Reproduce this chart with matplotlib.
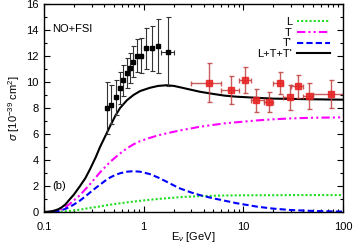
import numpy as np
import matplotlib.pyplot as plt
from matplotlib.ticker import MultipleLocator, FixedLocator, NullFormatter

plt.rcParams['font.family'] = ['Liberation Sans', 'DejaVu Sans']
plt.rcParams['mathtext.fontset'] = 'custom'
plt.rcParams['mathtext.rm'] = 'Liberation Sans'
plt.rcParams['mathtext.it'] = 'Liberation Sans:italic'

# model curves
E = [0.1, 0.11, 0.12, 0.13, 0.14, 0.15, 0.165, 0.18, 0.2, 0.23, 0.26, 0.29,
     0.33, 0.365, 0.41, 0.46, 0.52, 0.58, 0.68, 0.79, 0.92, 1.15, 1.4, 1.7,
     2.0, 2.3, 3.0, 3.66, 5, 6.5, 8.5, 14, 20, 30, 50, 100]
sig_L = [0, 0, 0, 0.01, 0.02, 0.03, 0.05, 0.08, 0.12, 0.18, 0.25, 0.32,
         0.38, 0.43, 0.5, 0.56, 0.62, 0.67, 0.74, 0.8, 0.86, 0.94, 1.0, 1.06,
         1.1, 1.14, 1.19, 1.22, 1.25, 1.27, 1.28, 1.29, 1.29, 1.3, 1.3, 1.3]
sig_T = [0, 0, 0.02, 0.06, 0.13, 0.22, 0.4, 0.6, 0.9, 1.3, 1.75, 2.15,
         2.65, 3.05, 3.45, 3.85, 4.2, 4.5, 4.9, 5.2, 5.45, 5.7, 5.9, 6.05,
         6.17, 6.27, 6.43, 6.56, 6.7, 6.82, 6.9, 7.05, 7.13, 7.2, 7.25, 7.28]
sig_Tp = [0, 0, 0.01, 0.04, 0.08, 0.14, 0.25, 0.38, 0.58, 0.88, 1.2, 1.5,
          1.85, 2.1, 2.4, 2.65, 2.85, 2.98, 3.1, 3.14, 3.1, 2.92, 2.65, 2.33,
          2.05, 1.82, 1.5, 1.3, 1.05, 0.87, 0.68, 0.4, 0.26, 0.15, 0.08, 0.03]
sig_tot = [0, 0.02, 0.06, 0.13, 0.22, 0.35, 0.6, 0.95, 1.35, 2.0, 2.6, 3.3,
           4.2, 5.0, 5.8, 6.6, 7.4, 8.0, 8.6, 9.0, 9.3, 9.55, 9.7, 9.75,
           9.7, 9.6, 9.4, 9.25, 9.08, 8.95, 8.87, 8.78, 8.72, 8.70, 8.67, 8.64]

# low energy data (black)
E_mb = [0.425, 0.475, 0.525, 0.575, 0.625, 0.675, 0.725, 0.775, 0.85, 0.95,
        1.05, 1.2, 1.4, 1.75]
s_mb = [7.98, 8.26, 8.81, 9.53, 10.13, 10.71, 11.11, 11.55, 12.02, 12.02,
        12.58, 12.58, 12.78, 12.33]
err_mb = [2.0, 1.5, 1.35, 1.25, 1.2, 1.15, 1.15, 1.2, 1.25, 1.35,
          1.55, 1.75, 2.1, 2.65]
xerr_mb = [0, 0, 0, 0, 0, 0, 0, 0, 0, 0, 0, 0, 0, 0.25]

# high energy data (red)
E_lo = [3, 6, 9, 12, 16, 20, 25, 30, 40, 50]
E_hi = [6, 9, 12, 16, 20, 25, 30, 40, 50, 100]
E_nm = [4.5, 7.5, 10.5, 13.5, 18, 23.5, 29.5, 35, 45.5, 75]
s_nm = [9.95, 9.38, 10.13, 8.59, 8.44, 9.90, 8.82, 9.67, 8.92, 9.08]
err_nm = [1.5, 1.07, 1.0, 0.9, 0.77, 0.85, 0.95, 0.9, 0.98, 1.08]

fig = plt.figure(figsize=(3.53, 2.45), dpi=100)
ax = fig.add_axes([0.1246, 0.1347, 0.8471, 0.849])

ax.plot(E, sig_L, color='#22dd22', lw=1.5, ls=(0, (1, 1)), label='L')
ax.plot(E, sig_T, color='#ff00ff', lw=1.5,
        ls=(0, (4, 1.5, 1, 1.5, 1, 1.5)), label='T')
ax.plot(E, sig_Tp, color='#0000ff', lw=1.5, ls=(0, (3, 1.5)), label="T'")
ax.plot(E, sig_tot, color='black', lw=1.5, label="L+T+T'")

ax.errorbar(E_mb, s_mb, yerr=err_mb, xerr=xerr_mb, fmt='s', ms=3.2,
            color='black', ecolor='#333333', elinewidth=0.8, capsize=1.8,
            capthick=0.8)

xl = np.array(E_nm) - np.array(E_lo)
xh = np.array(E_hi) - np.array(E_nm)
ax.errorbar(E_nm, s_nm, yerr=err_nm, xerr=[xl, xh], fmt='s', ms=3.8,
            color='#e82020', ecolor='#c04040', elinewidth=1.0, capsize=1.8,
            capthick=1.0, alpha=0.85)

ax.set_xscale('log')
ax.set_xlim(0.1, 100)
ax.set_ylim(0, 16)
ax.xaxis.set_major_locator(FixedLocator([0.1, 1, 10, 100]))
ax.set_xticklabels(['0.1', '1', '10', '100'])
ax.xaxis.set_minor_locator(FixedLocator(
    [m * 10.0 ** k for k in (-1, 0, 1) for m in range(2, 10)]))
ax.xaxis.set_minor_formatter(NullFormatter())
ax.yaxis.set_major_locator(MultipleLocator(2))
ax.yaxis.set_minor_locator(MultipleLocator(1))
ax.tick_params(which='both', direction='in', top=True, right=True,
               labelsize=8, width=0.8)
ax.tick_params(axis='x', which='major', pad=7)
ax.tick_params(axis='y', which='major', pad=4)
ax.tick_params(which='major', length=4)
ax.tick_params(which='minor', length=2)
for sp in ax.spines.values():
    sp.set_linewidth(1.0)

ax.set_xlabel(r'E$_\nu$ [GeV]', fontsize=8, labelpad=-1.5)
ax.set_ylabel(r'$\sigma$ [10$^{-39}$ cm$^2$]', fontsize=8, labelpad=3)

ax.text(0.12, 14.1, 'NO+FSI', fontsize=8, va='center')
ax.text(0.12, 2.0, '(b)', fontsize=8, va='center')

ax.legend(loc='upper right', frameon=False, fontsize=8, markerfirst=False,
          handlelength=2.9, handletextpad=0.5, labelspacing=0.05,
          borderaxespad=1.0, borderpad=0.2)

fig.savefig('out.png', dpi=100)
